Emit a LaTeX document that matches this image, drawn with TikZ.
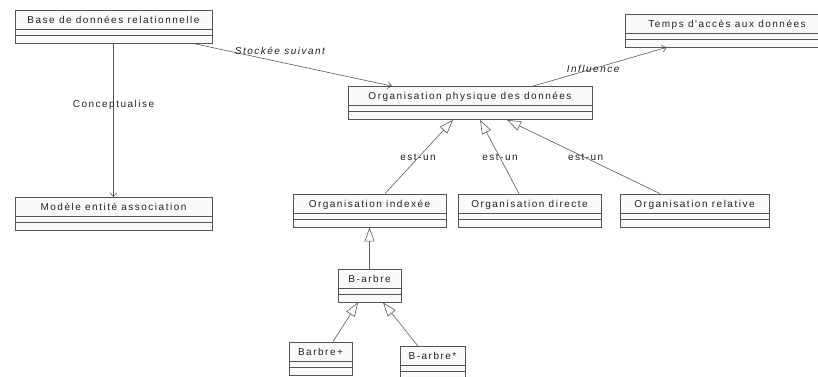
\documentclass[tikz,border=0pt]{standalone}
\usepackage{fontspec}
\newfontfamily\umlfont[LetterSpace=15]{Liberation Sans}
\usetikzlibrary{arrows.meta}
\definecolor{ink}{HTML}{222222}
\definecolor{boxline}{HTML}{555555}
\definecolor{edge}{HTML}{5A5A5A}
\definecolor{boxfill}{HTML}{FAFAFA}

\tikzset{
  umltext/.style={font=\umlfont\fontsize{10pt}{12pt}\selectfont, text=ink},
  % class box: title compartment plus two empty compartments
  umlclass/.style={umltext, draw=boxline, fill=boxfill, line width=0.8pt,
    inner xsep=0pt, inner ysep=0pt, text height=13pt, text depth=20pt,
    minimum height=33pt,
    path picture={
      \draw[boxline, line width=0.6pt]
        ([yshift=14pt]path picture bounding box.south west) --
        ([yshift=14pt]path picture bounding box.south east);
      \draw[boxline, line width=0.6pt]
        ([yshift=8pt]path picture bounding box.south west) --
        ([yshift=8pt]path picture bounding box.south east);
    }},
  assoc/.style={draw=edge, line width=0.6pt, -{Straight Barb[length=4pt,width=7pt]}},
  gen/.style={draw=edge, line width=0.6pt, -{Triangle[length=14pt,width=10pt,fill=white]}},
  lab/.style={umltext, inner sep=0pt},
  ilab/.style={lab, font=\umlfont\itshape\fontsize{10pt}{12pt}\selectfont},
}

\begin{document}
\begin{tikzpicture}[x=1pt,y=-1pt]
\useasboundingbox (0,0) rectangle (818,376);
\clip (0,0) rectangle (818,376);
\fill[white] (0,0) rectangle (818,376);

% classes
\node[umlclass, minimum width=197pt] (base)    at (113.5,27)  {Base de données relationnelle};
\node[umlclass, minimum width=204pt] (temps)   at (727,30.5)  {Temps d'accès aux données};
\node[umlclass, minimum width=244pt] (phys)    at (470,103)   {Organisation physique des données};
\node[umlclass, minimum width=197pt] (modele)  at (113.5,214) {Modèle entité association};
\node[umlclass, minimum width=153pt] (indexee) at (369.5,210.5) {Organisation indexée};
\node[umlclass, minimum width=143pt] (directe) at (529.5,210.5) {Organisation directe};
\node[umlclass, minimum width=149pt] (relative) at (694.5,210.5) {Organisation relative};
\node[umlclass, minimum width=63pt]  (barbre)  at (369.5,285.5) {B-arbre};
\node[umlclass, minimum width=63pt]  (bplus)   at (320.5,358.5) {Barbre+};
\node[umlclass, minimum width=65pt]  (bstar)   at (432.5,363) {B-arbre*};

% associations
\draw[assoc] (base) -- node[lab, pos=0.4] {Conceptualise} (modele);
\draw[assoc] ([xshift=-17pt]base.south east) --
  node[ilab, pos=0.43, yshift=11pt] {Stockée suivant} ([xshift=-78pt]phys.north);
\draw[assoc] ([xshift=63pt]phys.north) --
  node[ilab, pos=0.45] {Influence} ([xshift=42pt]temps.south west);

% generalisations
\draw[gen] ([xshift=15.5pt]indexee.north) -- node[lab, pos=0.486] {est-un} ([xshift=-17pt]phys.south);
\draw[gen] ([xshift=-10.5pt]directe.north) -- node[lab, pos=0.486] {est-un} ([xshift=10pt]phys.south);
\draw[gen] ([xshift=-34.5pt]relative.north) -- node[lab, pos=0.486] {est-un} ([xshift=37pt]phys.south);
\draw[gen] (barbre) -- (indexee);
\draw[gen] ([xshift=12.5pt]bplus.north) -- ([xshift=-11.5pt]barbre.south);
\draw[gen] ([xshift=-14.5pt]bstar.north) -- ([xshift=13.5pt]barbre.south);
\end{tikzpicture}
\end{document}
